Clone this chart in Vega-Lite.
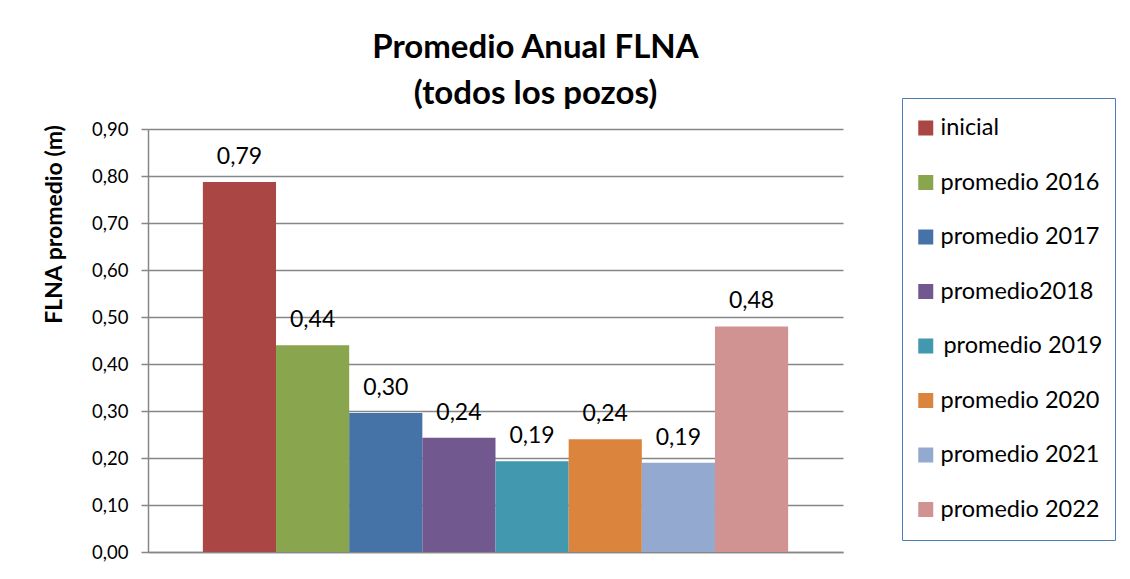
{
  "$schema": "https://vega.github.io/schema/vega-lite/v6.json",
  "autosize": {"type": "none"},
  "padding": {"left": 148, "top": 129, "right": 287, "bottom": 27},
  "width": 695,
  "height": 423,
  "background": "white",
  "config": {
    "locale": {"number": {"decimal": ",", "thousands": ".", "grouping": [3], "currency": ["", " €"]}},
    "view": {"stroke": null},
    "font": "Lato"
  },
  "title": {
    "text": ["Promedio Anual FLNA", "(todos los pozos)"],
    "font": "Lato",
    "fontSize": 33,
    "fontWeight": "bold",
    "color": "black",
    "lineHeight": 46,
    "anchor": "middle",
    "dx": 40,
    "offset": -13
  },
  "data": {
    "values": [
      {"serie": "inicial", "valor": 0.787},
      {"serie": "promedio 2016", "valor": 0.44},
      {"serie": "promedio 2017", "valor": 0.296},
      {"serie": "promedio2018", "valor": 0.243},
      {"serie": "\u200b\u2009promedio 2019", "valor": 0.193},
      {"serie": "promedio 2020", "valor": 0.24},
      {"serie": "promedio 2021", "valor": 0.19},
      {"serie": "promedio 2022", "valor": 0.48}
    ]
  },
  "encoding": {
    "x": {
      "field": "serie",
      "type": "nominal",
      "sort": null,
      "scale": {"paddingInner": 0, "paddingOuter": 0.75},
      "axis": {"labels": false, "ticks": false, "title": null, "domainColor": "#868686", "domainWidth": 1.5}
    },
    "y": {
      "field": "valor",
      "type": "quantitative",
      "scale": {"domain": [0, 0.9]},
      "axis": {
        "values": [0, 0.1, 0.2, 0.3, 0.4, 0.5, 0.6, 0.7, 0.8, 0.9],
        "format": ".2f",
        "title": "FLNA promedio (m)",
        "titleFont": "Lato",
        "titleFontSize": 23,
        "titleFontWeight": "bold",
        "titleColor": "black",
        "titleAngle": 270,
        "titleAlign": "center",
        "titleBaseline": "middle",
        "titleX": -94,
        "titleY": 95,
        "labelFont": "Lato",
        "labelFontSize": 18.5,
        "labelColor": "black",
        "labelPadding": 13,
        "tickSize": 7,
        "tickColor": "#868686",
        "tickWidth": 1.5,
        "gridColor": "#868686",
        "gridWidth": 1.5,
        "domainColor": "#868686",
        "domainWidth": 1.5
      }
    }
  },
  "layer": [
    {
      "mark": {"type": "bar"},
      "encoding": {
        "color": {
          "field": "serie",
          "type": "nominal",
          "sort": null,
          "scale": {
            "domain": ["inicial", "promedio 2016", "promedio 2017", "promedio2018", "\u200b\u2009promedio 2019", "promedio 2020", "promedio 2021", "promedio 2022"],
            "range": ["#AA4643", "#89A54E", "#4572A7", "#71588F", "#4198AF", "#DB843D", "#93A9CF", "#D19392"]
          },
          "legend": {
            "orient": "none",
            "legendX": 754,
            "legendY": -31,
            "title": null,
            "strokeColor": "#4A7EBB",
            "fillColor": "white",
            "padding": 12,
            "symbolType": "square",
            "symbolSize": 225,
            "symbolStrokeWidth": 0,
            "labelFont": "Lato",
            "labelFontSize": 23.5,
            "labelColor": "black",
            "labelOffset": 3,
            "labelLimit": 300,
            "rowPadding": 18.5,
            "clipHeight": 36
          }
        }
      }
    },
    {
      "mark": {"type": "text", "baseline": "alphabetic", "dy": -18, "fontSize": 23, "font": "Lato", "color": "black"},
      "encoding": {
        "text": {"field": "valor", "type": "quantitative", "format": ".2f"}
      }
    }
  ]
}
